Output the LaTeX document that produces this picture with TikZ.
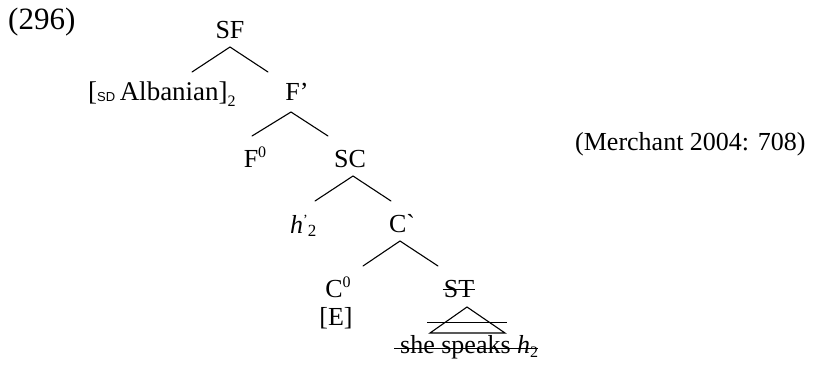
\documentclass[tikz,border=0pt]{standalone}
\usepackage{fontspec}
\setmainfont{Liberation Serif}
\newfontfamily\rawserif{Liberation Serif}
\newfontfamily\sdfont{Liberation Sans}
\begin{document}
\begin{tikzpicture}[x=1pt,y=-1pt,
  lbl/.style={anchor=base,inner sep=0pt,font=\fontsize{26}{31}\selectfont},
  br/.style={line width=1.1pt,line cap=round},
  strike/.style={line width=1pt}]
\useasboundingbox (0,0) rectangle (814,368);
% labels
\node[lbl,anchor=base west,font=\fontsize{31}{37}\selectfont] (ex) at (8,29) {(296)};
\node[lbl] (sf) at (230,38) {SF};
\node[lbl,anchor=base west,font=\fontsize{27}{32}\selectfont] (alb) at (88,100) {[\raisebox{-1pt}{\sdfont\fontsize{13}{13}\selectfont SD}\,Albanian]\raisebox{-6pt}{\fontsize{16}{16}\selectfont 2}};
\node[lbl] (fbar) at (297,100) {F’};
\node[lbl] (f0) at (255,167) {F\raisebox{10pt}{\fontsize{16}{16}\selectfont 0}};
\node[lbl] (sc) at (350,167) {SC};
\node[lbl,anchor=base west] (h) at (290,233) {\textit{h}\raisebox{9pt}{\fontsize{14}{14}\selectfont ’}\raisebox{-3pt}{\fontsize{17}{17}\selectfont 2}};
\node[lbl] (cbar) at (402,232) {C{\rawserif `}};
\node[lbl] (c0) at (338,297) {C\raisebox{10pt}{\fontsize{16}{16}\selectfont 0}};
\node[lbl] (e) at (336,325) {[E]};
\node[lbl] (st) at (459,297) {ST};
\node[lbl,anchor=base west] (she) at (400,353) {she speaks \textit{h}\raisebox{-4pt}{\fontsize{16}{16}\selectfont 2}};
\node[lbl,anchor=base west] (cite) at (575,150) {(Merchant 2004: 708)};
% branch coordinates
\coordinate (sfa) at (230,47);  \coordinate (sfl) at (192,72);  \coordinate (sfr) at (268,72);
\coordinate (fa)  at (291,112); \coordinate (fl)  at (252,136); \coordinate (fr)  at (328,136);
\coordinate (sca) at (353,176); \coordinate (scl) at (315,201); \coordinate (scr) at (391,201);
\coordinate (ca)  at (400,241); \coordinate (cl)  at (363,266); \coordinate (cr)  at (438,266);
\coordinate (ta)  at (467,307); \coordinate (tl)  at (430,333); \coordinate (tr)  at (505,333);
\coordinate (tsl) at (427,322); \coordinate (tsr) at (507,322);
\draw[br] (sfl) -- (sfa) -- (sfr);
\draw[br] (fl) -- (fa) -- (fr);
\draw[br] (scl) -- (sca) -- (scr);
\draw[br] (cl) -- (ca) -- (cr);
\draw[br] (ta) -- (tl) -- (tr) -- cycle;
\draw[strike] (tsl) -- (tsr);
% strike-throughs
\draw[strike] ([xshift=-1pt,yshift=8pt]st.base west) -- ([xshift=1pt,yshift=8pt]st.base east);
\draw[strike] ([xshift=-6pt,yshift=5pt]she.base west) -- ([yshift=5pt]she.base east);
\end{tikzpicture}
\end{document}
